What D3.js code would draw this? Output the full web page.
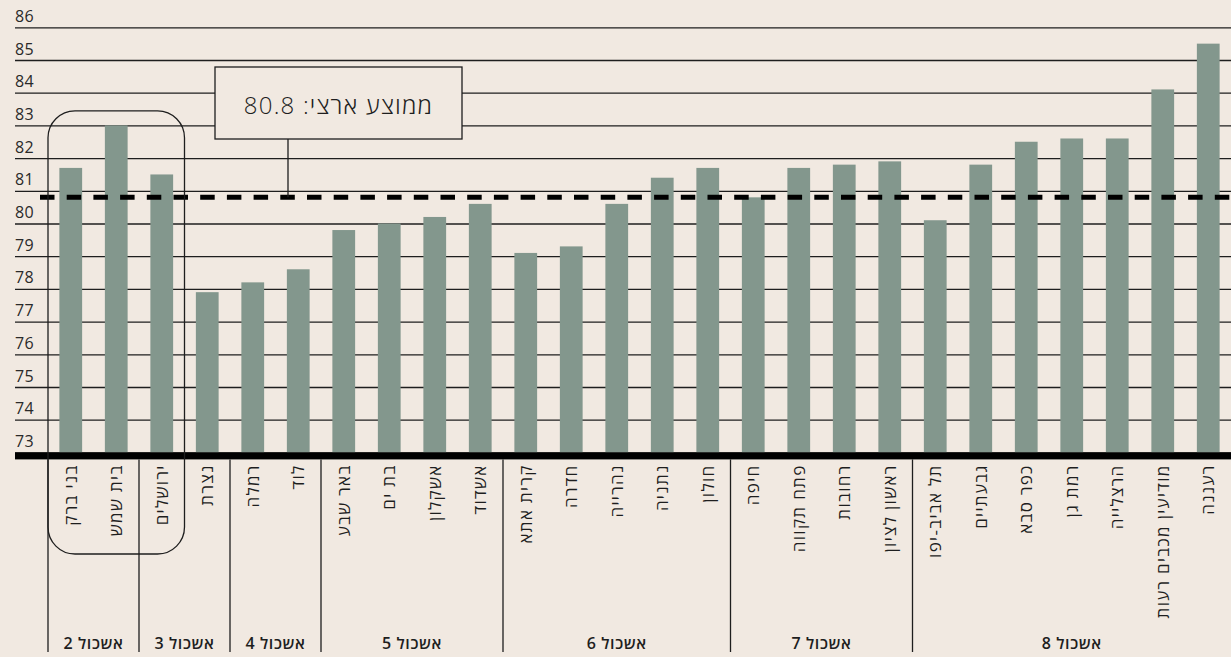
<!DOCTYPE html>
<html lang="he">
<head>
<meta charset="utf-8">
<script src="https://cdn.jsdelivr.net/npm/d3@7"></script>
<style>
  html, body { margin: 0; padding: 0; background: #f1e9e1; overflow: hidden; }
  svg { display: block; }
  text { font-family: "Open Sans", "Liberation Sans", "DejaVu Sans", sans-serif; fill: #1e1e1e; }
</style>
</head>
<body>
<div id="chart"></div>
<script>
// data
const cities = [
  "בני ברק", "בית שמש", "ירושלים", "נצרת", "רמלה", "לוד",
  "באר שבע", "בת ים", "אשקלון", "אשדוד",
  "קרית אתא", "חדרה", "נהרייה", "נתניה", "חולון",
  "חיפה", "פתח תקווה", "רחובות", "ראשון לציון",
  "תל אביב-יפו", "גבעתיים", "כפר סבא", "רמת גן", "הרצלייה", "מודיעין מכבים רעות", "רעננה"
];
const values = [
  81.7, 83.0, 81.5, 77.9, 78.2, 78.6,
  79.8, 80.0, 80.2, 80.6,
  79.1, 79.3, 80.6, 81.4, 81.7,
  80.8, 81.7, 81.8, 81.9,
  80.1, 81.8, 82.5, 82.6, 82.6, 84.1, 85.5
];
const clusterOf = [2, 2, 3, 3, 4, 4, 5, 5, 5, 5, 6, 6, 6, 6, 6, 7, 7, 7, 7, 8, 8, 8, 8, 8, 8, 8];
const clusters = [2, 3, 4, 5, 6, 7, 8];
const clusterLabels = ["אשכול 2", "אשכול 3", "אשכול 4", "אשכול 5", "אשכול 6", "אשכול 7", "אשכול 8"];
const yTicks = [73, 74, 75, 76, 77, 78, 79, 80, 81, 82, 83, 84, 85, 86];
const nationalAvg = 80.8;
const avgLabel = "ממוצע ארצי: 80.8";
const highlighted = ["בני ברק", "בית שמש", "ירושלים"];

const W = 1231, H = 657;
const barColor = "#83978d", bg = "#f1e9e1", ink = "#1e1e1e";

const svg = d3.select("#chart").append("svg")
  .attr("width", W)
  .attr("height", H);

const x = d3.scaleBand()
  .domain(cities)
  .range([48, W])
  .paddingInner(0.5)
  .paddingOuter(0.25);

const y = d3.scaleLinear()
  .domain([73, 86])
  .range([452.4, 27.3]);

// gridlines + tick labels
const yaxis = svg.append("g")
  .attr("transform", "translate(15,0)")
  .call(d3.axisRight(y).tickValues(yTicks).tickSize(W - 15).tickFormat(d3.format("d")));
yaxis.select(".domain").remove();
yaxis.selectAll(".tick line").attr("stroke", ink).attr("stroke-width", 1.3);
yaxis.selectAll(".tick text")
  .attr("x", 0)
  .attr("dy", -6)
  .attr("text-anchor", "start")
  .style("font-size", "16px")
  .style("letter-spacing", "0.4px")
  .style("fill", "#2a2a2a");

// bars
svg.selectAll(".bar")
  .data(cities)
  .join("rect")
  .attr("class", "bar")
  .attr("x", d => x(d))
  .attr("width", x.bandwidth())
  .attr("y", (d, i) => y(values[i]))
  .attr("height", (d, i) => y(73) - y(values[i]))
  .attr("fill", barColor);

// thick baseline
svg.append("rect")
  .attr("x", 15)
  .attr("y", y(73))
  .attr("width", W - 15)
  .attr("height", 7)
  .attr("fill", "#000");

// national average dashed line
svg.append("line")
  .attr("x1", 40).attr("x2", W)
  .attr("y1", y(nationalAvg)).attr("y2", y(nationalAvg))
  .attr("stroke", "#000")
  .attr("stroke-width", 5)
  .attr("stroke-dasharray", "14.5 12.2");

// annotation box
const boxX = 215, boxY = 67, boxW = 247, boxH = 72, connX = 288;
svg.append("line")
  .attr("x1", connX).attr("x2", connX)
  .attr("y1", boxY + boxH).attr("y2", y(nationalAvg))
  .attr("stroke", ink).attr("stroke-width", 1.3);
svg.append("rect")
  .attr("x", boxX).attr("y", boxY)
  .attr("width", boxW).attr("height", boxH)
  .attr("fill", bg)
  .attr("stroke", ink).attr("stroke-width", 1.3);
svg.append("text")
  .attr("x", boxX + boxW / 2)
  .attr("y", boxY + 47)
  .attr("text-anchor", "middle")
  .attr("direction", "rtl")
  .style("font-size", "24px")
  .style("letter-spacing", "1.2px")
  .style("font-weight", 300)
  .text(avgLabel);

// city labels (rotated)
const baseY = y(73) + 7;
svg.selectAll(".city")
  .data(cities)
  .join("text")
  .attr("class", "city")
  .attr("transform", d => `translate(${x(d) + x.bandwidth() / 2 + 6},${baseY + 5}) rotate(-90)`)
  .attr("direction", "rtl")
  .attr("text-anchor", "start")
  .style("font-size", "17px")
  .style("font-weight", 500)
  .style("letter-spacing", "1.3px")
  .text(d => d);

// cluster separators + labels
const step = x.step();
const clusterSpans = clusters.map(c => {
  const members = cities.filter((d, i) => clusterOf[i] === c);
  const x0 = x(members[0]) - step * 0.25;
  const x1 = x(members[members.length - 1]) + x.bandwidth() + step * 0.25;
  return { c, x0, x1 };
});

svg.selectAll(".sep")
  .data(clusterSpans)
  .join("line")
  .attr("class", "sep")
  .attr("x1", d => d.x0).attr("x2", d => d.x0)
  .attr("y1", baseY).attr("y2", 652)
  .attr("stroke", ink).attr("stroke-width", 1.3);

svg.selectAll(".clabel")
  .data(clusterSpans)
  .join("text")
  .attr("class", "clabel")
  .attr("x", d => (d.x0 + Math.min(d.x1, W)) / 2)
  .attr("y", 649)
  .attr("text-anchor", "middle")
  .attr("direction", "rtl")
  .style("font-size", "16px")
  .style("font-weight", 600)
  .style("letter-spacing", "0.6px")
  .text((d, i) => clusterLabels[i]);

// rounded highlight around the haredi cities
const hx0 = x(highlighted[0]) - step * 0.25;
const hx1 = x(highlighted[highlighted.length - 1]) + x.bandwidth() + step * 0.25;
const hTop = y(d3.max(highlighted, h => values[cities.indexOf(h)])) - 14.6;
svg.append("rect")
  .attr("x", hx0).attr("y", hTop)
  .attr("width", hx1 - hx0).attr("height", 554 - hTop)
  .attr("rx", 27).attr("ry", 27)
  .attr("fill", "none")
  .attr("stroke", ink).attr("stroke-width", 1.3);
</script>
</body>
</html>
